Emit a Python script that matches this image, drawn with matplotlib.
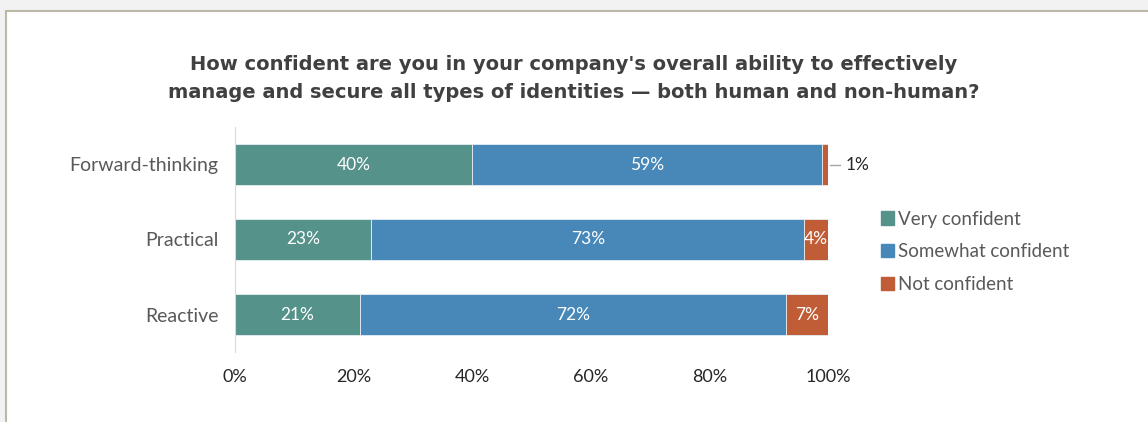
import matplotlib.pyplot as plt
import matplotlib.patches as mpatches
import numpy as np

# survey results, percent of respondents per group
groups = ['Forward-thinking', 'Practical', 'Reactive']
very = [40, 23, 21]
somewhat = [59, 73, 72]
notconf = [1, 4, 7]
series_names = ['Very confident', 'Somewhat confident', 'Not confident']
colors = ['#55928A', '#4788B9', '#C15D36']

plt.rcParams['font.family'] = ['Lato', 'DejaVu Sans']

fig = plt.figure(figsize=(11.48, 4.22), dpi=100, facecolor='#f2f2f2')
# white panel with thin frame
fig.patches.append(mpatches.Rectangle((6/1148, -0.01), 1.0, 1 - 11/422 + 0.01,
                                      transform=fig.transFigure, facecolor='white',
                                      edgecolor='#bdb8a6', linewidth=1.5, zorder=-5))

ax = fig.add_axes([235/1148, 1 - 352/422, (828 - 235)/1148, (352 - 127)/422])
ax.set_facecolor('none')

y = np.arange(len(groups))
left = np.zeros(len(groups))
for vals, name, col in zip([very, somewhat, notconf], series_names, colors):
    vals = np.array(vals, dtype=float)
    bars = ax.barh(y, vals, left=left, height=0.55, color=col, label=name,
                   edgecolor='#e6eef2', linewidth=0.6)
    for yi, l, v in zip(y, left, vals):
        if v >= 3:
            ax.text(l + v / 2, yi, f'{int(v)}%', ha='center', va='center',
                    color='white', fontsize=12.5)
        else:
            # small segment gets a leader line and outside label
            ax.plot([l + v + 0.3, l + v + 2.0], [yi, yi], color='#a6a6a6', lw=1,
                    clip_on=False)
            ax.text(l + v + 3.0, yi, f'{int(v)}%', ha='left', va='center',
                    color='#262626', fontsize=12.5, clip_on=False)
    left += vals

ax.set_xlim(0, 100)
ax.set_ylim(len(groups) - 0.5, -0.5)
ax.set_yticks(y)
ax.set_yticklabels(groups, fontsize=14, color='#595959')
ax.set_xticks(range(0, 101, 20))
ax.set_xticklabels([f'{t}%' for t in range(0, 101, 20)], fontsize=13, color='#262626')
ax.tick_params(axis='both', length=0)
ax.tick_params(axis='y', pad=12)
ax.tick_params(axis='x', pad=12)
for s in ['top', 'right', 'bottom']:
    ax.spines[s].set_visible(False)
ax.spines['left'].set_color('#d9d9d9')

fig.text(0.5, 1 - 78/422, "How confident are you in your company's overall ability to effectively\n"
         "manage and secure all types of identities \u2014 both human and non-human?",
         ha='center', va='center', fontsize=14, fontweight='bold', color='#404040',
         linespacing=1.6, family=['DejaVu Sans'])

handles = [mpatches.Patch(color=c) for c in colors]
fig.legend(handles, series_names, loc='upper left', bbox_to_anchor=(873/1148, 1 - 203/422),
           frameon=False, fontsize=13.5, labelcolor='#595959', handlelength=0.7,
           handleheight=0.7, handletextpad=0.25, labelspacing=0.85, borderaxespad=0)

fig.savefig('out.png', dpi=100, facecolor=fig.get_facecolor())
